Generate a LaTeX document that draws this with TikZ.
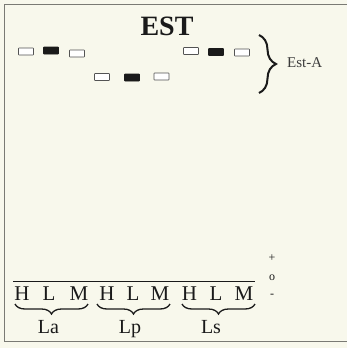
\documentclass[tikz,border=0pt]{standalone}
\usepackage{fontspec}
\setmainfont{Liberation Serif}
\usetikzlibrary{decorations.pathreplacing}
\definecolor{paper}{HTML}{F8F8EC}
\definecolor{framegray}{HTML}{7A7A74}
\definecolor{ink}{HTML}{1A1A1A}
\begin{document}
\begin{tikzpicture}[x=1pt,y=-1pt,
  band/.style={draw=ink!75,line width=0.6pt,minimum width=15pt,minimum height=7pt,inner sep=0pt,fill=white,rounded corners=0.5pt},
  darkband/.style={band,fill=ink,draw=ink},
  lane/.style={font=\fontsize{21}{21}\selectfont,text=ink,anchor=base,inner sep=0pt},
  grp/.style={font=\fontsize{20}{20}\selectfont,text=ink,anchor=base,inner sep=0pt},
  sign/.style={font=\fontsize{12}{12}\selectfont,text=ink,inner sep=0pt},
  framel/.style={draw=framegray,line width=0.8pt},
  ubrace/.style={decorate,decoration={brace,mirror,amplitude=10pt},line width=1.3pt,draw=ink}]
\useasboundingbox[fill=paper] (0,0) rectangle (347,348);
% frame
\coordinate (fTL) at (4,4);
\coordinate (fTR) at (347,4);
\coordinate (fBL) at (4,341);
\coordinate (fBR) at (347,341);
\draw[framel] (fTR) -- (fTL) -- (fBL) -- (fBR);
% title
\node[font=\fontsize{28}{28}\selectfont\bfseries,text=ink,anchor=base,inner sep=0pt] (title) at (167,35) {EST};
% bands row 1 (La)
\node[band] (b1) at (26,51.5) {};
\node[darkband] (b2) at (51,50.5) {};
\node[band] (b3) at (77,53.5) {};
% row 2 (Lp)
\node[band] (b4) at (102,77) {};
\node[darkband] (b5) at (132,77.5) {};
\node[band] (b6) at (161.5,76.5) {};
% row 3 (Ls)
\node[band] (b7) at (191,51) {};
\node[darkband] (b8) at (216,52) {};
\node[band] (b9) at (242,52.5) {};
% right brace and label
\coordinate (rb1) at (259,35);
\coordinate (rb2) at (259,93);
\draw[decorate,decoration={brace,amplitude=17pt},line width=2pt,draw=ink] (rb1) -- (rb2);
\node[font=\fontsize{15}{15}\selectfont,text=ink!85,anchor=base west,inner sep=0pt] (estA) at (287,67) {Est-A};
% overline
\coordinate (ol1) at (13,281);
\coordinate (ol2) at (255,281);
\draw[line width=0.9pt,draw=ink] (ol1) -- (ol2);
% lane letters
\node[lane] (h1) at (22,300) {H};
\node[lane] (l1) at (49,300) {L};
\node[lane] (m1) at (79,300) {M};
\node[lane] (h2) at (107,300) {H};
\node[lane] (l2) at (133,300) {L};
\node[lane] (m2) at (160,300) {M};
\node[lane] (h3) at (189.5,300) {H};
\node[lane] (l3) at (216,300) {L};
\node[lane] (m3) at (244,300) {M};
% group braces
\coordinate (g1a) at (15,304);
\coordinate (g1b) at (88,304);
\coordinate (g2a) at (97,304);
\coordinate (g2b) at (170,304);
\coordinate (g3a) at (182,304);
\coordinate (g3b) at (255,304);
\draw[ubrace] (g1a) -- (g1b);
\draw[ubrace] (g2a) -- (g2b);
\draw[ubrace] (g3a) -- (g3b);
\node[grp] (la) at (48.5,333) {La};
\node[grp] (lp) at (130,333) {Lp};
\node[grp] (ls) at (211,333) {Ls};
% polarity
\node[sign] (plus) at (272,258) {+};
\node[sign] (zero) at (272,278) {o};
\node[sign] (minus) at (272,296) {-};
\end{tikzpicture}
\end{document}
